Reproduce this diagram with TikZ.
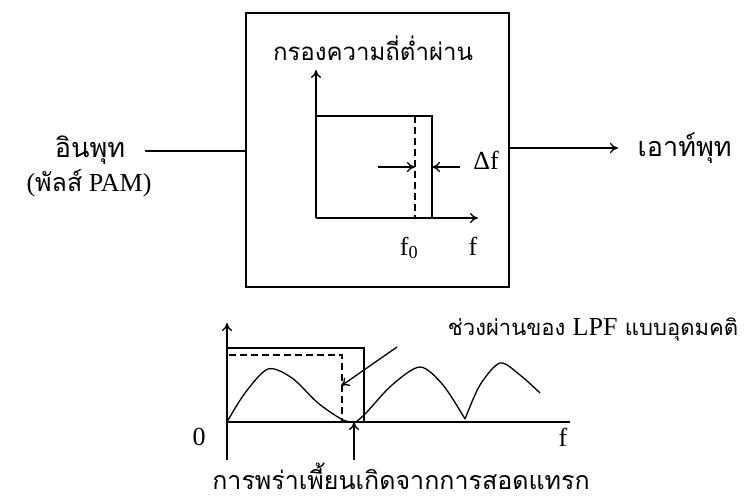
\documentclass[tikz,border=0pt]{standalone}
\usepackage{fontspec}
\setmainfont{Liberation Serif}
\newfontfamily\thaifont[Script=Thai]{Loma}
\usetikzlibrary{arrows.meta}

\begin{document}
\begin{tikzpicture}[x=1pt,y=-1pt,->,>={To[length=8pt,width=10pt]},line width=1.3pt,
                    thai node/.style={font=\thaifont\fontsize{24}{28}\selectfont,inner sep=1pt},
                    big thai/.style={thai node,font=\thaifont\fontsize{27}{30}\selectfont},
                    sym node/.style={font=\fontsize{26}{30}\selectfont,inner sep=1pt},
                    dash line/.style={-,dash pattern=on 7pt off 4pt}]
  \useasboundingbox (0,0) rectangle (746,500);

  % the filter block
  \node[draw,minimum width=263pt,minimum height=274pt,inner sep=0pt] (box) at (377.5,150) {};
  \node[thai node] (title) at (373,48) {กรองความถี่ต่ำผ่าน};

  \coordinate (o1) at (316,218);
  \coordinate (ytop1) at (316,70);
  \coordinate (xend1) at (478,218);
  \path (o1) edge (ytop1)
             edge (xend1);
  \draw[-] (o1) |- (432,116) -- (432,218);
  \draw[dash line] (415,116) -- (415,218);
  \coordinate (dfl) at (415,167);
  \coordinate (dfr) at (432,167);
  \draw (378,167) -- (dfl);
  \draw (460,167) -- (dfr);
  \node[sym node] (df) at (486,160) {Δf};
  \node[sym node] (f0) at (409,248) {f\textsubscript{0}};
  \node[sym node] (f1) at (473,246) {f};

  % input and output
  \node[big thai] (in) at (90,150) {อินพุท};
  \node[sym node] (inpam) at (89,183) {({\thaifont\fontsize{25}{30}\selectfont พัลส์} PAM)};
  \coordinate (instart) at (145,151);
  \draw[-] (instart) -- (box.west |- instart);
  \node[big thai,anchor=west] (out) at (636,148) {เอาท์พุท};
  \coordinate (outtip) at (618,148);
  \draw (box.east |- outtip) -- (outtip);

  % spectrum below
  \coordinate (o2) at (227,422);
  \coordinate (ytop2) at (227,323);
  \coordinate (ybot2) at (227,460);
  \coordinate (xend2) at (570,422);
  \draw (ybot2) -- (ytop2);
  \draw[-] (o2) -- (xend2);
  \node[sym node] (zero) at (199,437) {0};
  \node[sym node] (f2) at (563,437) {f};
  \draw[-] (o2) |- (364,348) -- (364,422);
  \draw[dash line] (229,355) -- (342,355) -- (342,422);
  \draw[-] plot[smooth] coordinates {(227,422) (245,393) (268,369) (292,378) (318,403) (343,420) (356,422)};
  \draw[-] plot[smooth] coordinates {(356,422) (366,413) (392,385) (420,367) (443,385) (465,419)};
  \draw[-] plot[smooth] coordinates {(465,419) (480,385) (500,363) (520,375) (540,393)};

  \node[thai node,font=\thaifont\fontsize{22}{26}\selectfont] (ideal) at (593,330) {ช่วงผ่านของ {\rmfamily\fontsize{26}{30}\selectfont LPF} แบบอุดมคติ};
  \coordinate (idealtail) at (397,347);
  \coordinate (idealtip) at (341,386);
  \draw (idealtail) -- (idealtip);

  \coordinate (alias) at (354,422);
  \node[thai node,font=\thaifont\fontsize{25}{28}\selectfont] (aliasnote) at (401,476) {การพร่าเพี้ยนเกิดจากการสอดแทรก};
  \draw (alias |- ybot2) -- (alias);
\end{tikzpicture}
\end{document}
